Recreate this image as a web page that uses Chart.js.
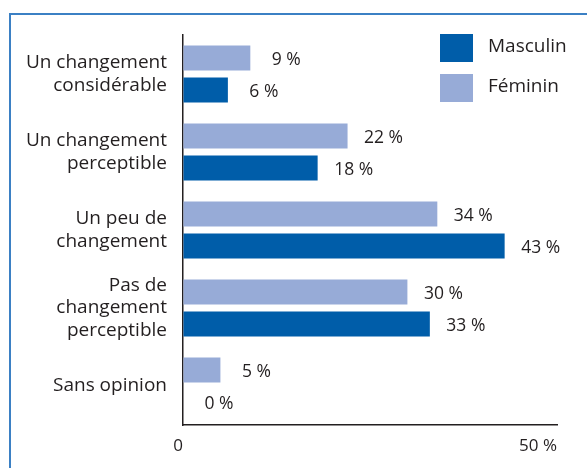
<!DOCTYPE html>
<html>
<head>
<meta charset="utf-8">
<script src="https://cdn.jsdelivr.net/npm/chart.js@4"></script>
<style>
  html, body { margin: 0; padding: 0; background: #fff; overflow: hidden; }
  #wrap { position: relative; width: 587px; height: 468px; }
  #frame {
    position: absolute; left: 9px; top: 13px; right: -5px; bottom: -5px;
    border-top: 2px solid #3b80c4; border-left: 2px solid #3b80c4;
  }
  canvas { position: absolute; left: 0; top: 0; }
</style>
</head>
<body>
<div id="wrap">
  <div id="frame"></div>
  <canvas id="chart" width="587" height="468"></canvas>
</div>
<script>
const categories = [
  ['Un changement', 'considérable'],
  ['Un changement', 'perceptible'],
  ['Un peu de', 'changement'],
  ['Pas de', 'changement', 'perceptible'],
  'Sans opinion'
];
const feminin = [9, 22, 34, 30, 5];
const masculin = [6, 18, 43, 33, 0];
const xTicks = [0, 50];

const darkBlue = '#005da9';
const lightBlue = '#97abd7';
const textColor = '#231f20';
const fontFamily = '"Open Sans", "Noto Sans", sans-serif';

// values written next to each bar
const valueLabels = {
  id: 'valueLabels',
  afterDatasetsDraw(chart) {
    const ctx = chart.ctx;
    ctx.save();
    ctx.fillStyle = textColor;
    ctx.font = '17.5px ' + fontFamily;
    ctx.textAlign = 'center';
    ctx.textBaseline = 'middle';
    chart.data.datasets.forEach((ds, i) => {
      chart.getDatasetMeta(i).data.forEach((el, j) => {
        ctx.fillText(ds.data[j] + ' %', el.x + 36, el.y + 2);
      });
    });
    ctx.restore();
  }
};

// legend box in the top right, Masculin first
const sideLegend = {
  id: 'sideLegend',
  afterDraw(chart) {
    const ctx = chart.ctx;
    const items = [['Masculin', darkBlue], ['Féminin', lightBlue]];
    ctx.save();
    ctx.font = '19px ' + fontFamily;
    ctx.textBaseline = 'middle';
    ctx.textAlign = 'left';
    items.forEach(([name, color], i) => {
      const y = 34 + i * 40;
      ctx.fillStyle = color;
      ctx.fillRect(440, y, 33, 28);
      ctx.fillStyle = textColor;
      ctx.fillText(name, 488, y + 13);
    });
    ctx.restore();
  }
};

new Chart(document.getElementById('chart'), {
  type: 'bar',
  data: {
    labels: categories,
    datasets: [
      { label: 'Féminin', data: feminin, backgroundColor: lightBlue },
      { label: 'Masculin', data: masculin, backgroundColor: darkBlue }
    ]
  },
  options: {
    indexAxis: 'y',
    responsive: false,
    animation: false,
    categoryPercentage: 0.82,
    barPercentage: 0.78,
    layout: { padding: { top: 35, right: 30, left: 0, bottom: 0 } },
    plugins: { legend: { display: false }, tooltip: { enabled: false } },
    scales: {
      x: {
        min: 0,
        max: 50,
        afterBuildTicks: (scale) => { scale.ticks = xTicks.map(v => ({ value: v })); },
        afterFit: (scale) => { scale.height = 43; },
        grid: { drawOnChartArea: false, drawTicks: false },
        border: { color: textColor, width: 1.5 },
        ticks: {
          align: 'end',
          padding: 11,
          color: textColor,
          font: { family: fontFamily, size: 17 },
          callback: (v) => v === 0 ? '0' : v + ' %'
        }
      },
      y: {
        afterFit: (scale) => { scale.width = 183; },
        grid: { drawOnChartArea: false, drawTicks: false },
        border: { color: textColor, width: 1.5 },
        ticks: {
          padding: 16,
          color: textColor,
          font: { family: fontFamily, size: 19, lineHeight: 1.17 }
        }
      }
    }
  },
  plugins: [valueLabels, sideLegend]
});
</script>
</body>
</html>
